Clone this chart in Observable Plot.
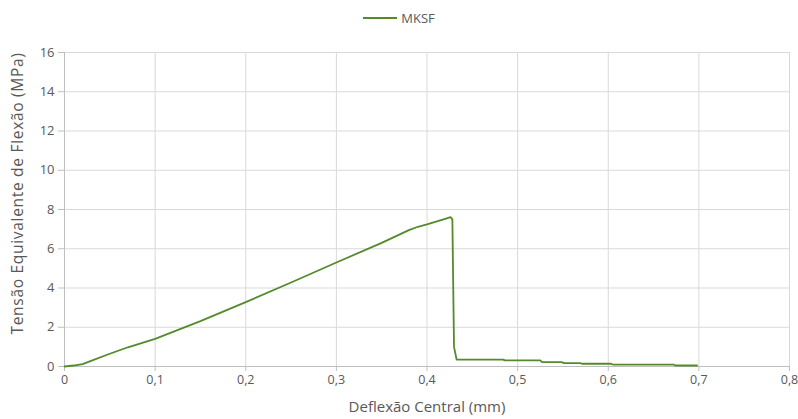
<!DOCTYPE html>
<html><head><meta charset="utf-8">
<script src="https://cdn.jsdelivr.net/npm/d3@7"></script>
<script src="https://cdn.jsdelivr.net/npm/@observablehq/plot@0.6"></script>
<style>
body{margin:0;background:#fff;font-family:"Open Sans",sans-serif;}
#wrap{position:relative;width:798px;height:419px;}
#legend{position:absolute;left:0;top:0;width:798px;height:36px;display:flex;justify-content:center;align-items:center;font-size:13px;color:#595959;z-index:2;}
#legend svg{margin-right:4px;}
</style></head><body>
<div id="wrap">
<div id="chart"></div>
<div id="legend"><svg width="34" height="10"><line x1="0" y1="5" x2="34" y2="5" stroke="#548a2c" stroke-width="2"/></svg><span>MKSF</span></div>
</div>
<script>
const serie = "MKSF";
const deflexao = [0, 0.01, 0.02, 0.03, 0.05, 0.07, 0.1, 0.15, 0.2, 0.25, 0.3, 0.35, 0.38, 0.39, 0.4, 0.41, 0.42, 0.426, 0.428, 0.4298, 0.4327, 0.458, 0.484, 0.486, 0.525, 0.527, 0.549, 0.551, 0.569, 0.571, 0.603, 0.605, 0.672, 0.674, 0.698];
const tensao   = [0, 0.05, 0.12, 0.3, 0.65, 0.98, 1.41, 2.31, 3.28, 4.28, 5.3, 6.3, 6.95, 7.12, 7.24, 7.38, 7.52, 7.61, 7.5, 1.0, 0.35, 0.35, 0.35, 0.31, 0.31, 0.22, 0.22, 0.17, 0.17, 0.14, 0.14, 0.1, 0.1, 0.05, 0.05];
const xTicks = [0, 0.1, 0.2, 0.3, 0.4, 0.5, 0.6, 0.7, 0.8];
const yTicks = [0, 2, 4, 6, 8, 10, 12, 14, 16];
const xLabel = "Deflexão Central (mm)";
const yLabel = "Tensão Equivalente de Flexão (MPa)";

const data = deflexao.map((d, i) => ({x: d, y: tensao[i]}));
const fmt = d => d === 0 ? "0" : d3.format(".1f")(d).replace(".", ",");

const chart = Plot.plot({
  width: 798,
  height: 419,
  marginTop: 52,
  marginBottom: 53,
  marginLeft: 64,
  marginRight: 9,
  style: {fontFamily: '"Open Sans", sans-serif', fontSize: "13px", color: "#595959", background: "#fff"},
  x: {domain: [0, 0.8]},
  y: {domain: [0, 16]},
  marks: [
    Plot.gridX(xTicks, {stroke: "#d9d9d9", strokeOpacity: 1}),
    Plot.gridY(yTicks, {stroke: "#d9d9d9", strokeOpacity: 1}),
    Plot.axisX(xTicks, {tickFormat: fmt, tickSize: 5, tickPadding: 4, stroke: "#bfbfbf", label: null, fill: "#595959", fontSize: 12.5}),
    Plot.axisY(yTicks, {tickSize: 6, tickPadding: 4, stroke: "#bfbfbf", label: null, fill: "#595959"}),
    Plot.ruleY([0], {stroke: "#bfbfbf"}),
    Plot.ruleX([0], {stroke: "#bfbfbf"}),
    Plot.line(data, {x: "x", y: "y", stroke: "#548a2c", strokeWidth: 1.8}),
    Plot.text([xLabel], {frameAnchor: "bottom", dy: 45, fontSize: 15, fill: "#595959"}),
    Plot.text([yLabel], {frameAnchor: "left", textAnchor: "middle", dx: -46, dy: -16, rotate: -90, fontSize: 15.5, fill: "#595959"})
  ]
});
d3.select(chart).selectAll("text").filter(function() { return this.textContent === yLabel; }).style("letter-spacing", "0.7px");
document.getElementById("chart").appendChild(chart);
</script>
</body></html>
